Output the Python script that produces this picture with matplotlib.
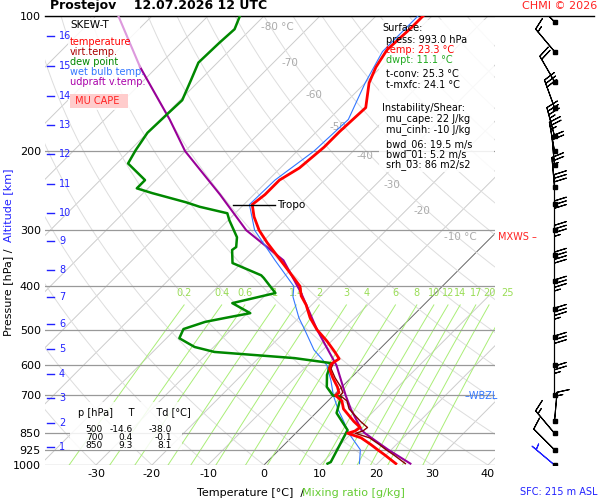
import matplotlib.pyplot as plt
import numpy as np

# ---- sounding data ----
t_p = [993, 950, 925, 900, 870, 850, 840, 825, 800, 750, 720, 700, 690, 670, 640,
       610, 595, 580, 560, 530, 500, 470, 440, 420, 400, 380, 350, 320, 300, 280,
       263, 250, 232, 218, 196, 181, 160, 141, 130, 119, 106, 100]
t_c = [23.3, 19.8, 17.6, 15.4, 12.5, 9.3, 10.2, 10.5, 8.3, 4.2, 2.5, 0.4, 0.5, -0.8, -3.2,
       -5.5, -6.0, -5.5, -7.5, -10.8, -14.6, -18.0, -21.0, -23.5, -25.4, -28.5, -33.5, -39.0, -42.7, -46.0,
       -48.5, -48.0, -48.0, -46.6, -45.9, -45.9, -45.5, -49.3, -50.9, -52.0, -51.6, -51.6]

tv_p = [993, 950, 925, 900, 870, 850, 840, 825, 800, 750, 720, 700, 690, 670, 640, 610, 595]
tv_c = [25.0, 21.4, 19.1, 16.9, 14.0, 10.7, 11.6, 11.8, 9.5, 5.2, 3.4, 1.2, 1.2, -0.2, -2.8, -5.2, -5.7]

td_p = [993, 985, 836, 766, 705, 700, 670, 630, 593, 578, 560, 546, 522, 498, 480, 470, 459,
        436, 414, 383, 378, 355, 332, 327, 311, 285, 275, 266, 260, 248, 242, 232, 213, 199,
        182, 166, 154, 139, 127, 115, 107, 100]
td_c = [11.1, 11.4, 8.7, 3.7, 1.6, -0.1, -2.7, -4.8, -6.2, -13.6, -29.0, -33.4, -37.7, -38.6, -36.0, -33.0, -29.5,
        -34.5, -28.6, -33.4, -34.3, -41.6, -44.0, -43.8, -45.4, -49.8, -51.4, -57.5, -60.7, -68.4, -72.0, -72.0, -78.0, -79.0,
        -80.0, -79.8, -79.6, -81.6, -83.4, -83.2, -82.9, -84.3]

wb_p = [993, 925, 850, 800, 750, 700, 650, 600, 580, 554, 500, 470, 422, 400, 350, 300, 263, 232, 200,
        170, 141, 120, 100]
wb_c = [16.8, 14.5, 9.5, 6.5, 3.2, 0.0, -3.0, -6.5, -8.6, -11.6, -16.8, -20.0, -24.8, -26.5, -34.5, -43.5,
        -49.0, -48.8, -47.0, -46.5, -50.0, -52.5, -52.5]

parcel_p = [993, 925, 850, 836, 750, 700, 600, 500, 414, 350, 300, 250, 200, 170, 130, 100]
parcel_c = [25.9, 19.5, 12.4, 11.2, 5.5, 2.2, -4.8, -14.6, -24.0, -33.0, -45.0, -56.0, -70.0, -78.4, -93.0, -106.0]

isobars = [100, 200, 300, 400, 500, 600, 700, 850, 925, 1000]
temp_ticks = [-30, -20, -10, 0, 10, 20, 30, 40]
mix_ratios = [0.2, 0.4, 0.6, 1, 1.4, 2, 3, 4, 6, 8, 10, 12, 14, 17, 20, 25]
mix_labels = ["0.2", "0.4", "0.6", "1", "1.4", "2", "3", "4", "6", "8", "10", "12", "14", "17", "20", "25"]
km_levels = list(range(1, 17))
km_p = [912, 806, 709, 627, 552, 485, 422, 368, 317, 275, 237, 203, 175, 151, 129, 111]
iso_labels = ["-80 °C", "-70", "-60", "-50", "-40", "-30", "-20", "-10 °C"]
iso_temps = [-80, -70, -60, -50, -40, -30, -20, -10]
iso_label_p = [106, 127, 150, 177, 205, 238, 272, 310]

barb_p = [103, 120, 140, 160, 185, 200, 215, 240, 262, 300, 340, 390, 450, 520, 600, 700, 800, 850, 925, 1000]
barb_spd = [15, 15, 20, 30, 35, 25, 20, 25, 30, 30, 35, 40, 35, 35, 30, 25, 15, 15, 10, 5]
barb_dir = [315, 320, 330, 340, 345, 350, 355, 355, 0, 0, 0, 0, 0, 0, 0, 0, 5, 320, 315, 310]

SKEW = 80.0


def skew(t, p):
    return np.asarray(t) + SKEW * np.log10(1000.0 / np.asarray(p))


def white_box(ax, x0, y0, w, h):
    # pixel box (top-left origin) drawn under the profiles
    ax.add_patch(plt.Rectangle((x0 / 600, 1 - (y0 + h) / 500), w / 600, h / 500,
                               transform=fig.transFigure, facecolor="white", alpha=0.85,
                               edgecolor="none", zorder=2, clip_on=False))


fig = plt.figure(figsize=(6, 5), dpi=100)
ax = fig.add_axes([45 / 600, 35 / 500, 450 / 600, 449 / 500])
ax.set_yscale("log")
ax.set_ylim(1000, 100)
ax.set_xlim(-39.1, 41.25)
for s in ax.spines.values():
    s.set_visible(False)

pp = np.logspace(3, 2, 200)

# isotherms
for t in range(-160, 50, 10):
    ax.plot(skew(t, pp), pp, color="#cccccc" if t != 0 else "#666666", lw=0.7, zorder=1)
# dry adiabats
for th in range(-40, 260, 10):
    tk = (th + 273.15) * (pp / 1000.0) ** 0.286 - 273.15
    ax.plot(skew(tk, pp), pp, color="#dddddd", lw=0.7, zorder=1)
# mixing ratio lines
pm = np.logspace(3, np.log10(440), 50)
for w, lab in zip(mix_ratios, mix_labels):
    e = w * pm / (622.0 + w)
    lg = np.log(e / 6.112)
    td = 243.5 * lg / (17.67 - lg)
    ax.plot(skew(td, pm), pm, color="#aaee77", lw=0.7, zorder=1)
    ax.text(skew(td[-1], 440), 425, lab, color="#99dd55", fontsize=7, ha="center", va="bottom")
for p in isobars:
    ax.axhline(p, color="#999999", lw=0.9, zorder=1)
ax.plot([-39.1, 59], [100, 100], color="black", lw=1, clip_on=False)

for lab, t, p in zip(iso_labels, iso_temps, iso_label_p):
    ax.text(skew(t, p) + 1.5, p, lab, color="#aaaaaa", fontsize=7.5, ha="left", va="center")

# text boxes (under the profiles)
white_box(ax, 68, 18, 72, 92)
white_box(ax, 379, 20, 115, 152)
white_box(ax, 70, 402, 112, 48)

# profiles
ax.plot(skew(parcel_c[:15], parcel_p[:15]), parcel_p[:15], color="#990099", lw=1.5, zorder=3)
ax.plot(skew(parcel_c[14:], parcel_p[14:]), parcel_p[14:], color="#dd99dd", lw=1.5, zorder=3)
ax.plot(skew(wb_c, wb_p), wb_p, color="#3377ff", lw=0.8, zorder=4)
ax.plot(skew(td_c, td_p), td_p, color="#008800", lw=1.8, zorder=4)
ax.plot(skew(tv_c, tv_p), tv_p, color="#880000", lw=1.0, zorder=4)
ax.plot(skew(t_c, t_p), t_p, color="#ff0000", lw=2.0, zorder=5)

# tropopause marker
ax.plot(skew([-52, -44.5], [263, 263]), [263, 263], color="black", lw=1, zorder=6)
ax.text(skew(-44, 263), 263, "Tropo", fontsize=7.5, va="center")

# axis ticks
ax.set_yticks(isobars)
ax.set_yticklabels([str(p) for p in isobars], fontsize=8)
ax.yaxis.set_minor_locator(plt.NullLocator())
ax.set_xticks(temp_ticks)
ax.set_xticklabels([str(t) for t in temp_ticks], fontsize=8)
ax.tick_params(length=0, pad=3)

for k, p in zip(km_levels, km_p):
    ax.plot([-38.7, -37.5], [p, p], color="#2222ff", lw=1, clip_on=False)
    ax.text(-36.6, p, str(k), color="#2222ff", fontsize=7, va="center")

# legend
fig.text(70 / 600, 1 - 25 / 500, "SKEW-T", fontsize=7.5, va="center")
leg = [("temperature", "#ff0000"), ("virt.temp.", "#aa0000"), ("dew point", "#008800"),
       ("wet bulb temp.", "#3377ff"), ("udpraft v.temp.", "#aa00aa")]
for i, (lab, c) in enumerate(leg):
    fig.text(70 / 600, 1 - (42 + 10 * i) / 500, lab, color=c, fontsize=7, va="center")
fig.text(72 / 600, 1 - 101 / 500, " MU CAPE  ", color="#ff2222", fontsize=7, va="center",
         bbox=dict(facecolor="#ffcccc", edgecolor="none", pad=1.5))

# surface box
info = [("Surface:", "black", 0, 28), ("press: 993.0 hPa", "black", 1, 40),
        ("temp: 23.3 °C", "#ff0000", 1, 50), ("dwpt: 11.1 °C", "#22aa22", 1, 60),
        ("t-conv: 25.3 °C", "black", 1, 74), ("t-mxfc: 24.1 °C", "black", 1, 85),
        ("Instability/Shear:", "black", 0, 108), ("mu_cape: 22 J/kg", "black", 1, 119),
        ("mu_cinh: -10 J/kg", "black", 1, 130), ("bwd_06: 19.5 m/s", "black", 1, 145),
        ("bwd_01: 5.2 m/s", "black", 1, 155), ("srh_03: 86 m2/s2", "black", 1, 165)]
for txt, c, ind, yy in info:
    fig.text((382 + 4 * ind) / 600, 1 - yy / 500, txt, color=c, fontsize=7, va="center")

# level table
fig.text(78 / 600, 1 - 413 / 500, "p [hPa]     T       Td [°C]", fontsize=7, va="center")
rows = [("500", "-14.6", "-38.0"), ("700", "0.4", "-0.1"), ("850", "9.3", "8.1")]
for i, r in enumerate(rows):
    y = 1 - (430 + 8 * i) / 500
    fig.text(103 / 600, y, r[0], fontsize=6.5, ha="right", va="center")
    fig.text(133 / 600, y, r[1], fontsize=6.5, ha="right", va="center")
    fig.text(172 / 600, y, r[2], fontsize=6.5, ha="right", va="center")

fig.text(465 / 600, 1 - 396 / 500, "–WBZL", color="#3377ff", fontsize=7, va="center")

# labels
fig.text(50 / 600, 1 - 6 / 500, "Prostejov    12.07.2026 12 UTC", fontsize=9, fontweight="bold", va="center")
fig.text(597 / 600, 1 - 6 / 500, "CHMI © 2026", color="#ff2222", fontsize=8, ha="right", va="center")
fig.text(597 / 600, 1 - 492 / 500, "SFC: 215 m ASL", color="#2222ff", fontsize=7, ha="right", va="center")
fig.text(197 / 600, 1 - 493 / 500, "Temperature [°C]  /", fontsize=8, va="center")
fig.text(302 / 600, 1 - 493 / 500, "Mixing ratio [g/kg]", color="#66cc33", fontsize=8, va="center")
fig.text(8 / 600, 1 - 292 / 500, "Pressure [hPa] /", fontsize=8, rotation=90, ha="center", va="center")
fig.text(8 / 600, 1 - 205 / 500, "Altitude [km]", color="#2222ff", fontsize=8, rotation=90, ha="center", va="center")
fig.text(537 / 600, 1 - 237 / 500, "MXWS –", color="#ff2222", fontsize=7, ha="right", va="center")

# wind barbs
bax = fig.add_axes([505 / 600, 35 / 500, 90 / 600, 449 / 500])
bax.set_yscale("log")
bax.set_ylim(1000, 100)
bax.set_xlim(0, 1)
bax.axis("off")
d = np.radians(barb_dir)
u = -np.array(barb_spd) * np.sin(d)
v = -np.array(barb_spd) * np.cos(d)
xb = np.full(len(barb_p), 0.55)
cols = ["black"] * (len(barb_p) - 1) + ["#2222ff"]
bax.barbs(xb, barb_p, u, v, color=cols, length=6.5, linewidth=0.8)
bax.plot(xb, barb_p, "s", ms=2.5, color="black")

fig.savefig("out.png", dpi=100)
